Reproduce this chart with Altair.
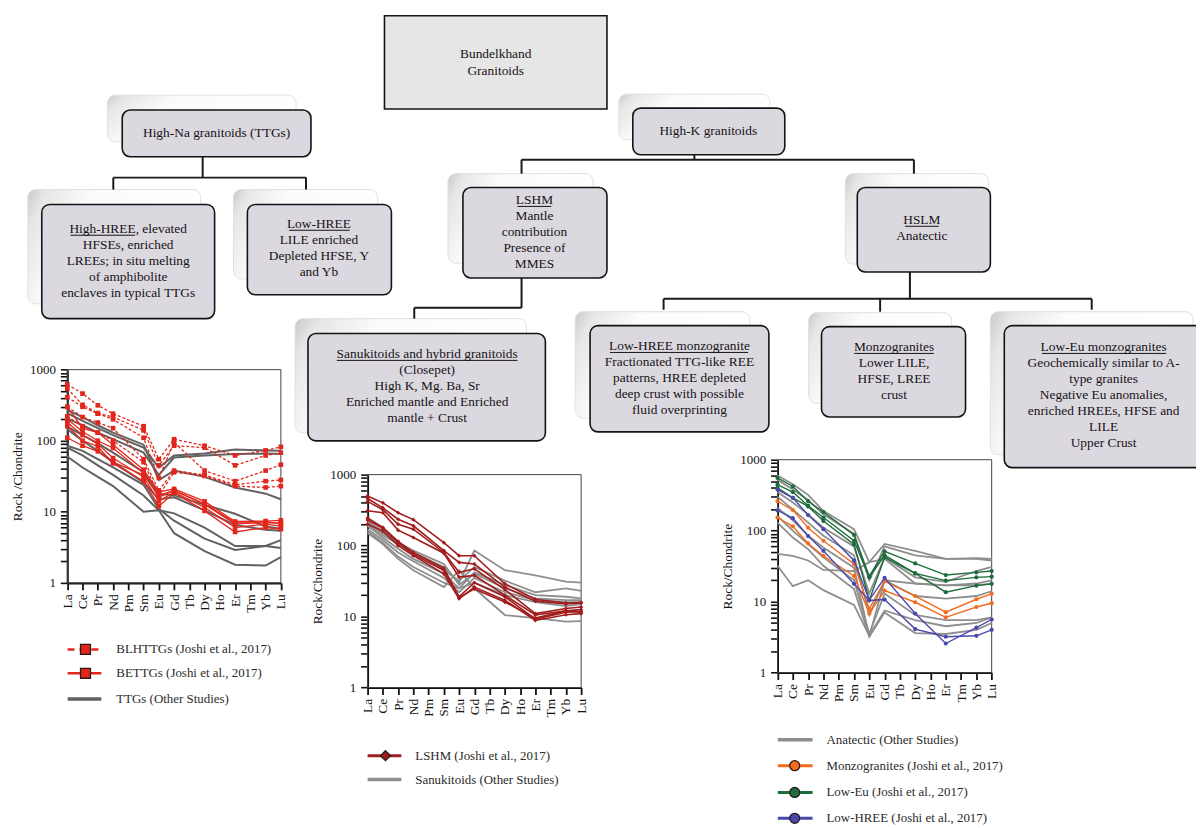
import altair as alt
import pandas as pd

# ---------------- data ----------------
ELEMENTS = ["La", "Ce", "Pr", "Nd", "Pm", "Sm", "Eu", "Gd", "Tb", "Dy", "Ho", "Er", "Tm", "Yb", "Lu"]
MEASURED = ["La", "Ce", "Pr", "Nd", "Sm", "Eu", "Gd", "Dy", "Er", "Yb", "Lu"]

# High-Na granitoids (TTGs) diagram
TTG_OTHER = {
    "T1": [245, 190, 150, 120, 80, 42, 62, 66, 75, 73, 72],
    "T2": [205, 165, 130, 105, 68, 33, 58, 62, 65, 66, 65],
    "T3": [270, 215, 165, 130, 88, 28, 38, 31, 22, 18, 15],
    "T4": [158, 120, 92, 68, 36, 18, 17, 12.5, 9.4, 6.2, 5.8],
    "T5": [145, 100, 72, 50, 26, 15, 16, 10.5, 6.5, 5.6, 5.4],
    "T6": [85, 72, 55, 42, 24, 11, 7.5, 4.2, 2.9, 3.3, 4.0],
    "T7": [80, 62, 45, 33, 17, 10.5, 5, 2.8, 1.8, 1.75, 2.3],
    "T8": [60, 42, 31, 23, 10, 10.5, 9.5, 6, 3.3, 3.3, 3.1],
}
BLHTTG = {
    "D1": [620, 460, 315, 240, 160, 55, 105, 85, 62, 73, 82],
    "D2": [540, 320, 245, 215, 140, 45, 85, 80, 45, 62, 68],
    "D3": [410, 300, 240, 200, 110, 30, 95, 38, 27, 38, 46],
    "D4": [300, 215, 180, 150, 55, 20, 38, 33, 24, 27, 28],
    "D5": [220, 160, 130, 100, 50, 17, 36, 32, 23, 22, 23],
}
BETTG = {
    "S1": [300, 150, 130, 88, 39, 19, 21, 14, 7.3, 7.4, 7.6],
    "S2": [200, 135, 100, 79, 35, 16, 20, 12.7, 6.7, 7.2, 6.8],
    "S3": [180, 120, 90, 57, 31, 14, 19, 11.5, 6, 6.7, 6.3],
    "S4": [160, 100, 83, 48, 27, 12, 18.5, 10.3, 5.2, 6, 5.7],
    "S5": [110, 85, 71, 50, 33, 17, 20, 13, 7, 7, 7],
}

# LSHM / sanukitoid diagram
SANUKITOID_OTHER = {
    "Q1": [210, 150, 110, 80, 50, 30, 85, 45, 38, 31, 30],
    "Q2": [200, 140, 105, 75, 45, 32, 50, 32, 22, 25, 23],
    "Q3": [190, 130, 90, 65, 40, 25, 42, 28, 20, 19, 18],
    "Q4": [170, 120, 80, 60, 35, 22, 35, 22, 17, 16, 16],
    "Q5": [160, 110, 70, 50, 30, 25, 30, 20, 16, 14, 15],
    "Q6": [150, 105, 65, 45, 26, 45, 25, 10.5, 9.5, 8.5, 8.6],
    "Q7": [220, 160, 110, 85, 55, 28, 40, 25, 18, 17, 17],
}
LSHM = {
    "L1": [500, 400, 290, 232, 110, 72, 72, 29, 17.5, 15.5, 15.8],
    "L2": [460, 340, 235, 190, 85, 58, 55, 26, 16.5, 15, 15.5],
    "L3": [420, 320, 200, 170, 80, 42, 47, 24, 11, 13, 13.6],
    "L4": [310, 290, 165, 130, 78, 36, 38, 20, 10.5, 12, 12.5],
    "L5": [245, 180, 115, 80, 48, 19, 30, 19, 9.2, 11.5, 11.8],
    "L6": [200, 160, 100, 72, 40, 17.8, 26, 17, 8.8, 10.6, 11],
    "L7": [230, 175, 110, 75, 45, 18.5, 24.5, 16, 9.5, 12, 11.5],
}

# HSLM diagram
ANATECTIC_OTHER = {
    "A1": [600, 450, 320, 190, 105, 36, 65, 52, 40, 41, 40],
    "A2": [520, 380, 270, 170, 90, 20, 60, 45, 40, 40, 38],
    "A3": [350, 250, 170, 110, 60, 13, 42, 22, 19, 27, 31],
    "A4": [300, 200, 130, 85, 45, 6.5, 20, 18, 17, 18, 20],
    "A5": [210, 140, 85, 58, 30, 3.2, 20, 12, 11, 12, 14],
    "A6": [160, 100, 65, 42, 20, 3.5, 13, 6.5, 5.5, 5.5, 6],
    "A7": [130, 80, 55, 32, 15, 3.2, 7, 3.6, 3.5, 4, 5],
    "A8": [47, 44, 38, 28, 27, 36, 40, 18, 17, 17, 18],
    "A9": [32, 16.5, 20, 14.5, 9, 3.3, 7.5, 5.5, 4.5, 5, 6],
}
MONZOGRANITES = {
    "O1": [260, 195, 110, 72, 34, 7.9, 19.4, 12, 7.1, 10.8, 12.9],
    "O2": [153, 115, 66, 44, 23, 6.8, 14.3, 9.8, 6, 8.4, 9.5],
}
LOW_EU = {
    "E1": [554, 420, 260, 183, 87, 22.8, 51, 34.5, 23.7, 25.8, 27],
    "E2": [445, 350, 225, 153, 72, 22, 45, 25, 19.8, 22, 22.5],
    "E3": [400, 290, 220, 137, 64, 10.5, 42, 25, 13.6, 16.8, 17.8],
}
LOW_HREE = {
    "B1": [380, 290, 166, 105, 38, 10.5, 21.6, 6.8, 2.57, 4.3, 5.6],
    "B2": [193, 150, 84, 52, 17.8, 10.4, 10.7, 4.1, 3.2, 3.3, 4.0],
}

# flow-chart texts
BOX_TEXTS = {
    "bundel": ["Bundelkhand", "Granitoids"],
    "highna": ["High-Na granitoids (TTGs)"],
    "highk": ["High-K granitoids"],
    "highhree": ["High-HREE, elevated", "HFSEs, enriched", "LREEs; in situ melting", "of amphibolite", "enclaves in typical TTGs"],
    "lowhree": ["Low-HREE", "LILE enriched", "Depleted HFSE, Y", "and Yb"],
    "lshm": ["LSHM", "Mantle", "contribution", "Presence of", "MMES"],
    "hslm": ["HSLM", "Anatectic"],
    "sanuk": ["Sanukitoids and hybrid granitoids", "(Closepet)", "High K, Mg. Ba, Sr", "Enriched mantle and Enriched", "mantle + Crust"],
    "lhmonz": ["Low-HREE monzogranite", "Fractionated TTG-like REE", "patterns, HREE depleted", "deep crust with possible", "fluid overprinting"],
    "monz": ["Monzogranites", "Lower LILE,", "HFSE, LREE", "crust"],
    "loweu": ["Low-Eu monzogranites", "Geochemically similar to A-", "type granites", "Negative Eu anomalies,", "enriched HREEs, HFSE and", "LILE", "Upper Crust"],
}
LEGEND_TEXTS = [
    "BLHTTGs (Joshi et al., 2017)", "BETTGs (Joshi et al., 2017)", "TTGs (Other Studies)",
    "LSHM (Joshi et al., 2017)", "Sanukitoids (Other Studies)",
    "Anatectic (Other Studies)", "Monzogranites (Joshi et al., 2017)",
    "Low-Eu (Joshi et al., 2017)", "Low-HREE (Joshi et al., 2017)",
]

# ---------------- styling / layout ----------------
W, H = 1196, 820
SERIF = "Liberation Serif"
INK = "#161314"
RED = "#e3261c"
DARKRED = "#a11d1d"
ORANGE = "#f36b21"
GREEN = "#1e6b3b"
BLUE = "#4848ad"
GRAY_D = "#616161"
GRAY_L = "#8e8e8e"

PX = alt.Scale(domain=[8, 8 + W], range=[0, W], nice=False, zero=False)
PY = alt.Scale(domain=[8, 8 + H], range=[0, H], nice=False, zero=False)


def pxx(f):
    return alt.X(f"{f}:Q", scale=PX, axis=None)


def pxy(f):
    return alt.Y(f"{f}:Q", scale=PY, axis=None)


# layout of boxes (page pixels): key -> (shadow box, main box, text centre x, first text line y)
LAYOUT = {
    "highna": ((108, 93, 298, 140), (123, 108, 313, 155), 218, 131),
    "highk": ((623, 92, 775, 138), (637, 106, 790, 153), 713, 129),
    "highhree": ((28, 188, 202, 303), (42, 203, 216, 318), 129, 228),
    "lowhree": ((235, 188, 380, 278), (249, 203, 394, 294), 321, 223),
    "lshm": ((451, 172, 597, 262), (466, 186, 611, 277), 538, 199),
    "hslm": ((851, 172, 995, 263), (863, 186, 997, 271), 928, 219),
    "sanuk": ((297, 318, 530, 433), (310, 333, 549, 441), 430, 354),
    "lhmonz": ((579, 311, 755, 418), (594, 325, 774, 432), 684, 346),
    "monz": ((814, 312, 958, 403), (827, 326, 972, 417), 900, 347),
    "loweu": ((997, 311, 1201, 455), (1011, 325, 1240, 468), 1111, 347),
}
UNDERLINES = [(71, 136, 234), (291, 352, 229), (521, 555, 205), (911, 945, 225),
              (339, 521, 360), (614, 753, 352), (860, 940, 353), (1049, 1174, 353)]
CONNECTORS = [
    (204, 155, 204, 176), (114, 176, 308, 176), (114, 176, 114, 188), (308, 176, 308, 188),
    (699, 153, 699, 158), (525, 158, 920, 158), (525, 158, 525, 172), (920, 158, 920, 172),
    (525, 277, 525, 307), (417, 307, 525, 307), (417, 307, 417, 318),
    (916, 271, 916, 298), (668, 298, 1099, 298), (668, 298, 668, 309),
    (886, 298, 886, 311), (1099, 298, 1099, 309),
]

shadow_rows, main_rows, text_rows = [], [], []
for k, (sh, mn, cx, ty) in LAYOUT.items():
    shadow_rows.append(dict(x=sh[0], y=sh[1], x2=sh[2], y2=sh[3]))
    main_rows.append(dict(x=mn[0], y=mn[1], x2=mn[2], y2=mn[3]))
    for j, line in enumerate(BOX_TEXTS[k]):
        text_rows.append(dict(x=cx, y=ty + 16 * j, t=line))
for j, line in enumerate(BOX_TEXTS["bundel"]):
    text_rows.append(dict(x=499, y=52 + 16.5 * j, t=line))

shadow_fill = alt.Gradient(
    gradient="linear",
    stops=[alt.GradientStop(color="#c9c9c9", offset=0),
           alt.GradientStop(color="#e6e6e6", offset=0.1),
           alt.GradientStop(color="#fbfbfb", offset=0.35),
           alt.GradientStop(color="#ffffff", offset=1)],
    x1=0, x2=1, y1=0, y2=0.3,
)

shadows = alt.Chart(pd.DataFrame(shadow_rows)).mark_rect(
    cornerRadius=8, fill=shadow_fill, stroke="#e0e0e0", strokeWidth=1
).encode(x=pxx("x"), x2="x2:Q", y=pxy("y"), y2="y2:Q")

mains = alt.Chart(pd.DataFrame(main_rows)).mark_rect(
    cornerRadius=8, fill="#dbd8e0", stroke=INK, strokeWidth=1.6
).encode(x=pxx("x"), x2="x2:Q", y=pxy("y"), y2="y2:Q")

bundel = alt.Chart(pd.DataFrame([dict(x=387, y=13, x2=611, y2=107)])).mark_rect(
    fill="#e6e6e6", stroke=INK, strokeWidth=1.6
).encode(x=pxx("x"), x2="x2:Q", y=pxy("y"), y2="y2:Q")

connectors = alt.Chart(pd.DataFrame([dict(x=a, y=b, x2=c, y2=d) for a, b, c, d in CONNECTORS])).mark_rule(
    color="#1a1a1a", strokeWidth=2
).encode(x=pxx("x"), x2="x2:Q", y=pxy("y"), y2="y2:Q")

underlines = alt.Chart(pd.DataFrame([dict(x=a, x2=b, y=c) for a, b, c in UNDERLINES])).mark_rule(
    color=INK, strokeWidth=1
).encode(x=pxx("x"), x2="x2:Q", y=pxy("y"))

box_text = alt.Chart(pd.DataFrame(text_rows)).mark_text(
    font=SERIF, fontSize=13.5, color=INK, align="center", baseline="middle"
).encode(x=pxx("x"), y=pxy("y"), text="t:N")

# legends
LEG_ROWS_Y = [651, 675, 701, 758, 782, 742, 768, 795, 821]
LEG_X = [(68, 102, 117)] * 3 + [(370, 404, 418)] * 2 + [(783, 818, 832)] * 4
LEG_COL = [RED, RED, GRAY_D, DARKRED, GRAY_L, GRAY_L, ORANGE, GREEN, BLUE]
LEG_W = [2.5, 2.5, 3.5, 3, 3.5, 3.5, 3, 3, 3]

leg_solid = pd.DataFrame([dict(x=LEG_X[i][0], x2=LEG_X[i][1], y=LEG_ROWS_Y[i], c=LEG_COL[i], w=LEG_W[i])
                          for i in range(9) if i != 0])
leg_dash = pd.DataFrame([dict(x=LEG_X[0][0], x2=LEG_X[0][1], y=LEG_ROWS_Y[0], c=RED, w=2.5)])
leg_text = pd.DataFrame([dict(x=LEG_X[i][2], y=LEG_ROWS_Y[i], t=LEGEND_TEXTS[i]) for i in range(9)])
leg_mark = pd.DataFrame([
    dict(x=86, y=651, c=RED, s="square"),
    dict(x=86, y=675, c=RED, s="square"),
    dict(x=388, y=758, c=DARKRED, s="diamond"),
    dict(x=800, y=768, c=ORANGE, s="circle"),
    dict(x=800, y=795, c=GREEN, s="circle"),
    dict(x=800, y=821, c=BLUE, s="circle"),
])

legend_solid = alt.Chart(leg_solid).mark_rule().encode(
    x=pxx("x"), x2="x2:Q", y=pxy("y"),
    color=alt.Color("c:N", scale=None), strokeWidth=alt.StrokeWidth("w:Q", scale=None))
legend_dash = alt.Chart(leg_dash).mark_rule(strokeDash=[7, 5]).encode(
    x=pxx("x"), x2="x2:Q", y=pxy("y"),
    color=alt.Color("c:N", scale=None), strokeWidth=alt.StrokeWidth("w:Q", scale=None))
legend_marks = alt.Chart(leg_mark).mark_point(filled=True, stroke="#2a1a1a", strokeWidth=1.3, size=100, opacity=1).encode(
    x=pxx("x"), y=pxy("y"), fill=alt.Fill("c:N", scale=None), shape=alt.Shape("s:N", scale=None))
legend_text = alt.Chart(leg_text).mark_text(
    font=SERIF, fontSize=13, color="#2b2b2b", align="left", baseline="middle"
).encode(x=pxx("x"), y=pxy("y"), text="t:N")

flow = alt.layer(shadows, mains, bundel, connectors, box_text, underlines,
                 legend_solid, legend_dash, legend_marks, legend_text)

# ---------------- spider diagrams ----------------
YTICKS = [k * 10 ** e for e in range(3) for k in range(1, 10)] + [1000]
XLABELS = "[" + ",".join(f"'{e}'" for e in ELEMENTS) + "][datum.value]"


def long_df(series):
    rows = []
    for name, vals in series.items():
        for el, v in zip(MEASURED, vals):
            rows.append(dict(line=name, i=ELEMENTS.index(el), v=v))
    return pd.DataFrame(rows)


def spider(frame, ytitle, groups):
    x0, y0, x1, y1 = frame
    xs = alt.Scale(domain=[0, 14], range=[x0 - 8, x1 - 8], nice=False, zero=False)
    ys = alt.Scale(type="log", domain=[1, 1000], range=[y1 - 8, y0 - 8], nice=False)
    xax = alt.Axis(orient="bottom", offset=(y1 - 8) - H, values=list(range(15)), labelExpr=XLABELS,
                   labelAngle=270, labelFont=SERIF, labelFontSize=13.5, labelColor=INK, labelPadding=4,
                   labelFlush=False, labelOverlap=False, tickSize=7, tickWidth=1.8, tickColor="#111111",
                   domainColor="#111111", domainWidth=2, grid=False, title=None)
    yax = alt.Axis(orient="left", offset=-(x0 - 8), values=YTICKS, format="d",
                   labelExpr="indexof([1,10,100,1000], datum.value) >= 0 ? datum.label : ''",
                   labelFont=SERIF, labelFontSize=13, labelColor=INK, labelPadding=5,
                   labelFlush=False, labelOverlap=False, tickSize=7, tickWidth=1.6, tickColor="#111111",
                   domainColor="#111111", domainWidth=2, grid=False, title=ytitle, titleFont=SERIF,
                   titleFontSize=13.5, titleFontWeight="normal", titleColor=INK, titlePadding=5)
    layers = [
        alt.Chart(pd.DataFrame([dict(a=0, b=14, c=1, d=1000)])).mark_rect(
            fillOpacity=0, stroke="#444444", strokeWidth=1
        ).encode(x=alt.X("a:Q", scale=xs, axis=xax), x2="b:Q", y=alt.Y("c:Q", scale=ys, axis=yax), y2="d:Q")
    ]
    for series, color, width, dash, shape, msize in groups:
        df = long_df(series)
        kw = dict(color=color, strokeWidth=width)
        if dash:
            kw["strokeDash"] = dash
        enc = dict(x=alt.X("i:Q", scale=xs, axis=xax), y=alt.Y("v:Q", scale=ys, axis=yax))
        layers.append(alt.Chart(df).mark_line(**kw).encode(detail="line:N", **enc))
        if shape:
            layers.append(alt.Chart(df).mark_point(shape=shape, filled=True, color=color, size=msize,
                                                   opacity=1).encode(**enc))
    return alt.layer(*layers)


sp1 = spider((67.7, 369.3, 282.7, 584.0), "Rock /Chondrite", [
    (TTG_OTHER, GRAY_D, 2, None, None, 0),
    (BLHTTG, RED, 1.3, [3, 2], "square", 22),
    (BETTG, RED, 1.3, None, "square", 22),
])
sp2 = spider((370.0, 475.0, 585.0, 689.3), "Rock/Chondrite", [
    (SANUKITOID_OTHER, GRAY_L, 1.8, None, None, 0),
    (LSHM, DARKRED, 1.6, None, "diamond", 18),
])
sp3 = spider((782.7, 460.0, 998.3, 674.3), "Rock/Chondrite", [
    (ANATECTIC_OTHER, GRAY_L, 1.8, None, None, 0),
    (MONZOGRANITES, ORANGE, 1.4, None, "circle", 18),
    (LOW_EU, GREEN, 1.4, None, "circle", 18),
    (LOW_HREE, BLUE, 1.4, None, "circle", 18),
])

chart = alt.layer(flow, sp1, sp2, sp3).resolve_scale(
    x="independent", y="independent"
).properties(
    width=W, height=H, padding=0, autosize=alt.AutoSizeParams(type="none")
).configure_view(stroke=None)

chart.save("out.html", embed_options={"renderer": "svg", "actions": False})
